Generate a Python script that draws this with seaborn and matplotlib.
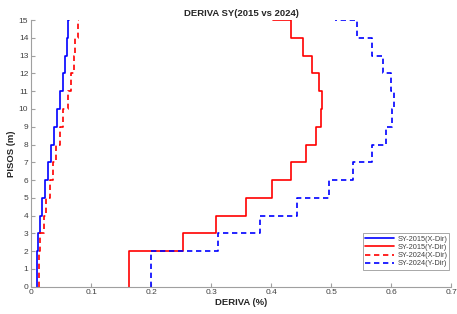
import matplotlib
matplotlib.use('Agg')
import matplotlib.pyplot as plt
import seaborn as sns
import pandas as pd

# Story levels and drift (%) per level
pisos = list(range(16))
sy2015_x = [0.010, 0.010, 0.011, 0.015, 0.019, 0.023, 0.029, 0.033, 0.039, 0.043,
            0.048, 0.053, 0.057, 0.060, 0.062, 0.064]
sy2015_y = [0.163, 0.163, 0.253, 0.309, 0.359, 0.402, 0.434, 0.458, 0.475, 0.483,
            0.485, 0.480, 0.469, 0.453, 0.433, 0.404]
sy2024_x = [0.013, 0.013, 0.015, 0.021, 0.025, 0.031, 0.037, 0.041, 0.048, 0.054,
            0.061, 0.066, 0.071, 0.074, 0.078, 0.080]
sy2024_y = [0.200, 0.200, 0.311, 0.381, 0.444, 0.496, 0.537, 0.568, 0.592, 0.602,
            0.605, 0.600, 0.587, 0.568, 0.543, 0.507]

series = ['SY-2015(X-Dir)', 'SY-2015(Y-Dir)', 'SY-2024(X-Dir)', 'SY-2024(Y-Dir)']
valores = [sy2015_x, sy2015_y, sy2024_x, sy2024_y]

df = pd.concat([pd.DataFrame({'deriva': v, 'piso': pisos, 'serie': s})
                for s, v in zip(series, valores)], ignore_index=True)

sns.set_theme(style='white')
plt.rcParams['font.family'] = ['Liberation Sans', 'DejaVu Sans']

palette = {series[0]: '#0000ff', series[1]: '#ff0000',
           series[2]: '#ff0000', series[3]: '#0000ff'}
dashes = {series[0]: '', series[1]: '', series[2]: (3.2, 2.2), series[3]: (3.2, 2.2)}

fig, ax = plt.subplots(figsize=(4.57, 3.14), dpi=100)
fig.subplots_adjust(left=0.068, right=0.987, top=0.936, bottom=0.087)

sns.lineplot(data=df, x='deriva', y='piso', hue='serie', style='serie',
             palette=palette, dashes=dashes, sort=False, estimator=None,
             drawstyle='steps-pre', linewidth=1.2, ax=ax)

ax.set_xlim(0, 0.7)
ax.set_ylim(0, 15)
ax.set_xticks([0, 0.1, 0.2, 0.3, 0.4, 0.5, 0.6, 0.7])
ax.set_xticklabels(['0', '0.1', '0.2', '0.3', '0.4', '0.5', '0.6', '0.7'])
ax.set_yticks(range(16))

gris = '#a0a0a0'
for side in ['top', 'right']:
    ax.spines[side].set_visible(False)
for side in ['left', 'bottom']:
    ax.spines[side].set_color(gris)
    ax.spines[side].set_linewidth(0.8)
ax.tick_params(direction='in', length=3, width=0.8, color=gris,
               labelsize=6, labelcolor='#404040', pad=2,
               bottom=True, left=True)

ax.set_title('DERIVA SY(2015 vs 2024)', fontsize=6.8, fontweight='bold', pad=3)
ax.set_xlabel('DERIVA (%)', fontsize=6.8, fontweight='bold', labelpad=1)
ax.set_ylabel('PISOS (m)', fontsize=6.8, fontweight='bold', labelpad=2)

leg = ax.legend(loc='lower right', fontsize=5.3, frameon=True, fancybox=False,
                handlelength=4, borderpad=0.3, labelspacing=0.15,
                handletextpad=0.4, bbox_to_anchor=(1.005, 0.05))
leg.get_frame().set_edgecolor('#808080')
leg.get_frame().set_linewidth(0.6)
for t in leg.get_texts():
    t.set_color('#404040')

fig.savefig('out.png', dpi=100)
